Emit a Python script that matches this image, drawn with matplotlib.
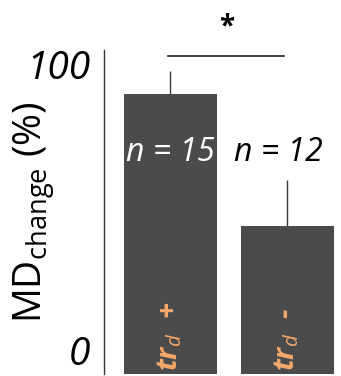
import numpy as np
import matplotlib.pyplot as plt

# mean change and SEM for the two groups
groups = [r'$\mathbf{tr}_{\mathit{d}}$  +', r'$\mathbf{tr}_{\mathit{d}}$  -']
values = [86.4, 45.7]
errors = [7.1, 14.2]
n_labels = ['n = 15', 'n = 12']
sig_level = 98

plt.rcParams['font.family'] = ['Open Sans', 'DejaVu Sans']
plt.rcParams['mathtext.fontset'] = 'custom'
plt.rcParams['mathtext.rm'] = 'Open Sans'
plt.rcParams['mathtext.it'] = 'Open Sans:italic'
plt.rcParams['mathtext.bf'] = 'Open Sans:italic:bold'

fig = plt.figure(figsize=(3.41, 3.76), dpi=100)
ax = fig.add_axes([0.305, 0.005, 0.695, 0.862])

x = np.arange(len(values))
ax.bar(x, values, width=0.795, color='#4b4b4b', zorder=2)
ax.errorbar(x, values, yerr=[np.zeros(len(errors)), errors], fmt='none',
            ecolor='#3a3a3a', elinewidth=1.0, capsize=0, zorder=1)

ax.set_xlim(-0.564, 1.46)
ax.set_ylim(0, 100)

for spine in ['top', 'right', 'bottom']:
    ax.spines[spine].set_visible(False)
ax.spines['left'].set_linewidth(1.0)
ax.spines['left'].set_color('#333333')
ax.set_xticks([])
ax.set_yticks([0, 100])
ax.set_yticklabels(['0', '100'], fontsize=28, style='italic')
ax.tick_params(axis='y', length=0, pad=10)
ax.get_yticklabels()[0].set_verticalalignment('bottom')
ax.get_yticklabels()[1].set_verticalalignment('top')

ax.set_ylabel(r'MD$_{\mathrm{change}}$ (%)', fontsize=28)
ax.yaxis.set_label_coords(-0.2, 0.5)

# n per group
ax.text(x[0], 68.5, n_labels[0], color='white', fontsize=23, style='italic',
        ha='center', va='center')
ax.text(x[1] - 0.075, 68.5, n_labels[1], color='black', fontsize=23,
        style='italic', ha='center', va='center')

# group names inside the bars
for xi, g in zip(x, groups):
    ax.text(xi, 1.0, g, color='#f5a86a', fontsize=21, fontweight='bold',
            style='italic', rotation=90, ha='center', va='bottom')

# significance bar
ax.plot([-0.02, 0.97], [sig_level, sig_level], color='#222222', lw=1.2,
        clip_on=False)
ax.text(0.48, 102.5, '*', fontsize=20, ha='center', va='bottom',
        fontweight='bold')

fig.savefig('out.png', dpi=100)
